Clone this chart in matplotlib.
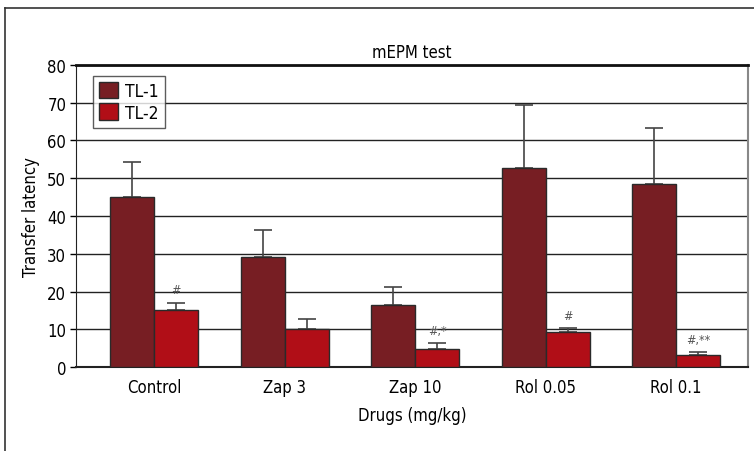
import numpy as np
import matplotlib.pyplot as plt
from matplotlib.lines import Line2D

# データ
groups = ['Control', 'Zap 3', 'Zap 10', 'Rol 0.05', 'Rol 0.1']
tl1 = [45.0, 29.2, 16.3, 52.6, 48.6]
tl1_err = [9.4, 7.2, 4.8, 16.9, 14.7]
tl2 = [15.2, 10.0, 4.8, 9.4, 3.2]
tl2_err = [1.8, 2.8, 1.5, 0.8, 0.7]
marks = ['#', '', '#,*', '#', '#,**']

c1 = '#771e23'
c2 = '#b10e17'
plt.rcParams['font.family'] = ['DejaVu Sans']
plt.rcParams['font.stretch'] = 'condensed'

fig = plt.figure(figsize=(7.54, 4.52), dpi=100)
ax = fig.add_axes([76/754, 1-368/452, 672/754, 302/452])

x = np.arange(len(groups))
w = 0.337
ax.bar(x - w/2, tl1, w, color=c1, edgecolor='#2a2a2a', linewidth=1.0, label='TL-1', zorder=3)
ax.bar(x + w/2, tl2, w, color=c2, edgecolor='#2a2a2a', linewidth=1.0, label='TL-2', zorder=3)
ax.errorbar(x - w/2, tl1, yerr=[np.zeros(5), tl1_err], fmt='none', ecolor='#444444',
            elinewidth=1.2, capsize=6.5, capthick=1.2, zorder=2)
ax.errorbar(x + w/2, tl2, yerr=[np.zeros(5), tl2_err], fmt='none', ecolor='#444444',
            elinewidth=1.2, capsize=6.5, capthick=1.2, zorder=2)

for i, m in enumerate(marks):
    if m:
        ax.text(x[i] + w/2, tl2[i] + tl2_err[i] + 3.5, m, ha='center', va='center',
                fontsize=9, color='#555555')

ax.set_xlim(-0.6, 4.55)
ax.set_ylim(0, 80)
ax.set_yticks(np.arange(0, 81, 10))
ax.yaxis.grid(True, color='#222222', linewidth=1.0, zorder=0)
ax.set_axisbelow(True)
ax.set_xticks(x)
ax.set_xticklabels(groups, fontsize=12)
ax.tick_params(axis='x', length=0, pad=8)
ax.tick_params(axis='y', labelsize=12, length=4, width=1, direction='out', pad=3)

ax.spines['top'].set_linewidth(2.0)
ax.spines['top'].set_color('#111111')
ax.spines['right'].set_color('#888888')
ax.spines['right'].set_linewidth(1.5)
ax.spines['left'].set_color('#222222')
ax.spines['bottom'].set_color('#222222')
ax.spines['bottom'].set_linewidth(1.5)

ax.set_title('mEPM test', fontsize=12, pad=6)
ax.set_ylabel('Transfer latency', fontsize=12, labelpad=5)
ax.set_xlabel('Drugs (mg/kg)', fontsize=12, labelpad=7)

leg = ax.legend(loc='upper left', bbox_to_anchor=(0.025, 0.965), fontsize=12.5, frameon=True,
                fancybox=False, edgecolor='#333333', handlelength=1.1, handleheight=1.1,
                handletextpad=0.4, borderpad=0.35, labelspacing=0.2, borderaxespad=0)
leg.get_frame().set_linewidth(1.0)

# 外枠
fig.add_artist(Line2D([5/754, 5/754], [0, 1-9/452], color='#333333', linewidth=1.2))
fig.add_artist(Line2D([5/754, 1], [1-9/452, 1-9/452], color='#333333', linewidth=1.2))

plt.savefig('out.png', dpi=100)
plt.close()
